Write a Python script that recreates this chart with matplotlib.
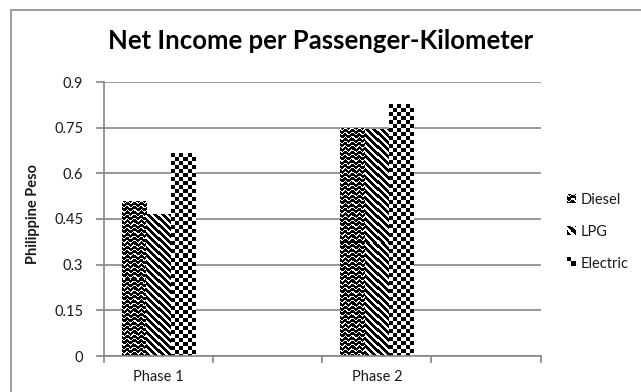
import numpy as np
import matplotlib
matplotlib.use("Agg")
import matplotlib.pyplot as plt
from matplotlib.patches import Patch, Rectangle
from matplotlib.legend_handler import HandlerBase
from matplotlib.image import BboxImage
from matplotlib.transforms import Bbox, TransformedBbox

plt.rcParams['font.family'] = ['Lato', 'DejaVu Sans']

# data
categories = ["Phase 1", "", "Phase 2", ""]
series_names = ["Diesel", "LPG", "Electric"]
diesel = [0.507, 0, 0.746, 0]
lpg = [0.466, 0, 0.743, 0]
electric = [0.664, 0, 0.825, 0]
series_values = [diesel, lpg, electric]
y_ticks = [0, 0.15, 0.3, 0.45, 0.6, 0.75, 0.9]
y_tick_labels = ["0", "0.15", "0.3", "0.45", "0.6", "0.75", "0.9"]


# fill textures (1 = white, 0 = black), sized in screen pixels
def wave_pattern(h, w):
    r, c = np.mgrid[0:h, 0:w]
    y = r - 1.2 * np.sin(2 * np.pi * c / 6.5)
    return ((y % 4.4) < 1.3).astype(float)

def stripe_pattern(h, w):
    r, c = np.mgrid[0:h, 0:w]
    return (((c - r) % 7) >= 4).astype(float)

def checker_pattern(h, w):
    r, c = np.mgrid[0:h, 0:w]
    return (((r // 4) + (c // 4)) % 2).astype(float)

patterns = [wave_pattern, stripe_pattern, checker_pattern]


class HandlerPattern(HandlerBase):
    def __init__(self, pat):
        super().__init__()
        self.pat = pat

    def create_artists(self, legend, orig_handle, xdescent, ydescent,
                       width, height, fontsize, trans):
        side = min(width, height)
        bb = Bbox.from_bounds(-xdescent, -ydescent + (height - side) / 2, side, side)
        img = BboxImage(TransformedBbox(bb, trans), cmap='gray', norm=None,
                        interpolation='nearest')
        img.set_data(self.pat)
        img.set_clim(0, 1)
        return [img]


W, H = 641, 392
fig = plt.figure(figsize=(W / 100, H / 100), dpi=100)
ax = fig.add_axes([104 / W, 1 - 356 / H, (540.5 - 104) / W, (356 - 82) / H])

grid_col = '#868686'
txt_col = '#1a1a1a'
fs = 10.5
ax.set_xlim(-0.5, 3.5)
ax.set_ylim(0, 0.9)
ax.set_yticks(y_ticks)
ax.set_yticklabels(y_tick_labels, fontsize=fs, color=txt_col)
ax.yaxis.grid(True, color=grid_col, linewidth=1.2)
ax.set_axisbelow(True)
ax.tick_params(axis='y', length=6, width=1.2, color=grid_col, pad=9)

# category boundaries carry the tick marks, centers carry the labels
x = np.arange(len(categories))
ax.set_xticks(np.arange(-0.5, len(categories)))
ax.set_xticklabels([])
ax.set_xticks(x, minor=True)
ax.set_xticklabels(categories, minor=True, fontsize=fs, color=txt_col)
ax.tick_params(axis='x', which='major', length=5, width=1.2, color=grid_col)
ax.tick_params(axis='x', which='minor', length=0, pad=10)

for s in ['top', 'right']:
    ax.spines[s].set_visible(False)
for s in ['left', 'bottom']:
    ax.spines[s].set_color(grid_col)
    ax.spines[s].set_linewidth(1.2)

bw = 0.222
offsets = [-bw, 0, bw]
for vals, off, pat in zip(series_values, offsets, patterns):
    bars = ax.bar(x + off, vals, width=bw, color='none', edgecolor='none')
    for b in bars:
        h = b.get_height()
        if h <= 0:
            continue
        x0 = b.get_x()
        x1 = x0 + b.get_width()
        (px0, py0), (px1, py1) = ax.transData.transform([[x0, 0], [x1, h]])
        hp = max(1, int(round(py1 - py0)))
        wp = max(1, int(round(px1 - px0)))
        ax.imshow(pat(hp, wp), cmap='gray', vmin=0, vmax=1, interpolation='nearest',
                  extent=[x0, x1, 0, h], aspect='auto', zorder=2)

ax.set_xlim(-0.5, 3.5)
ax.set_ylim(0, 0.9)

ax.set_ylabel("Philippine Peso", fontsize=fs, fontweight='bold', color=txt_col)
ax.yaxis.set_label_coords(40 / W, 1 - 214 / H, transform=fig.transFigure)

fig.text(321 / W, 1 - 41 / H, "Net Income per Passenger-Kilometer",
         ha='center', va='center', fontsize=18.5, fontweight='bold', color='black')

handles = [Patch(label=n) for n in series_names]
hmap = {hd: HandlerPattern(p(8, 8)) for hd, p in zip(handles, patterns)}
fig.legend(handles=handles, handler_map=hmap, loc='center left',
           bbox_to_anchor=(567 / W, 1 - 232 / H), bbox_transform=fig.transFigure,
           frameon=False, fontsize=fs, handlelength=0.55, handleheight=0.55,
           handletextpad=0.35, labelspacing=1.2, borderpad=0, borderaxespad=0,
           labelcolor=txt_col)

# outer chart-area frame
fig.patches.append(Rectangle((11 / W, -0.1), 1.2, 1.1 - 10 / H, transform=fig.transFigure,
                             fill=False, edgecolor='#8c8c8c', linewidth=1.2))

fig.savefig("out.png", dpi=100)
